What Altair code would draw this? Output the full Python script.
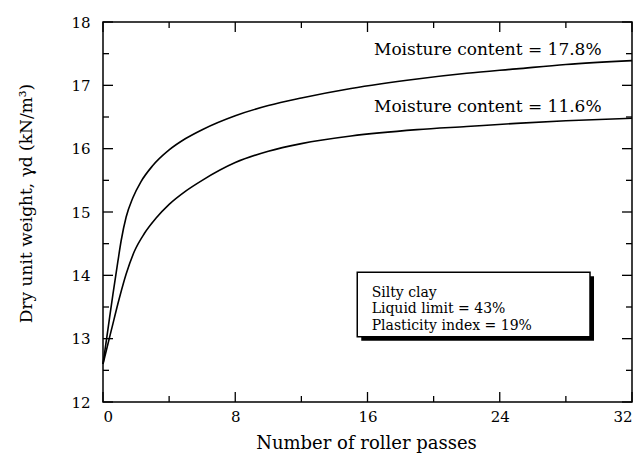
import altair as alt
import pandas as pd

# ---- data ----
passes_178 = [0, 0.3, 0.6, 0.9, 1.1, 1.4, 1.8, 2.3, 3, 4, 5, 6, 8, 10, 12, 15, 19, 22, 25, 28, 32]
weight_178 = [12.6, 13.15, 13.7, 14.22, 14.55, 14.92, 15.22, 15.48, 15.73, 15.98, 16.16, 16.3, 16.52, 16.68,
              16.8, 16.95, 17.1, 17.19, 17.26, 17.33, 17.39]
passes_116 = [0, 0.5, 1.0, 1.4, 1.9, 2.5, 3.2, 4.0, 5.0, 6, 8, 10, 12, 15, 19, 22, 25, 28, 32]
weight_116 = [12.6, 13.13, 13.65, 14.02, 14.38, 14.66, 14.9, 15.12, 15.33, 15.5, 15.78, 15.96, 16.08, 16.2,
              16.3, 16.35, 16.4, 16.44, 16.48]

x_major = [0, 8, 16, 24, 32]
x_minor = [4, 12, 20, 28]
y_major = [12, 13, 14, 15, 16, 17, 18]
y_minor = [12.5, 13.5, 14.5, 15.5, 16.5, 17.5]

curve_labels = ["Moisture content =  17.8%", "Moisture content =  11.6%"]
box_lines = ["Silty clay", "Liquid limit =  43%", "Plasticity index =  19%"]

# ---- tables ----
curves = pd.DataFrame({
    "passes": passes_178 + passes_116,
    "weight": weight_178 + weight_116,
    "series": ["17.8"] * len(passes_178) + ["11.6"] * len(passes_116),
})
labels_df = pd.DataFrame({"x": [30.16, 30.16], "y": [17.48, 16.584], "text": curve_labels})
box_df = pd.DataFrame({"x": [15.38], "x2": [29.46], "y": [14.048], "y2": [13.031]})
boxtext_df = pd.DataFrame({"x": [16.25], "y": [13.663]})
xmaj_df = pd.DataFrame({"v": x_major})
xmin_df = pd.DataFrame({"v": x_minor})
ymaj_df = pd.DataFrame({"v": y_major})
ymin_df = pd.DataFrame({"v": y_minor})

FONT = "DejaVu Serif"
W, H = 529, 380
MAJ, MIN = 10, 6

xs = alt.Scale(domain=[0, 32], nice=False, zero=False)
ys = alt.Scale(domain=[12, 18], nice=False, zero=False)

lines = alt.Chart(curves).mark_line(color="black", strokeWidth=1.6, interpolate="monotone").encode(
    x=alt.X("passes:Q", scale=xs, axis=alt.Axis(
        orient="bottom", values=x_major, ticks=False, tickSize=0, domain=False, grid=False,
        labelFont=FONT, labelFontSize=15, labelColor="black", labelPadding=7,
        title="Number of roller passes", titleFont=FONT, titleFontSize=18, titleFontWeight="normal",
        titleColor="black", titleX=263, titleY=46, titleBaseline="alphabetic", titleAlign="center")),
    y=alt.Y("weight:Q", scale=ys, axis=alt.Axis(
        orient="left", values=y_major, ticks=False, tickSize=0, domain=False, grid=False,
        labelFont=FONT, labelFontSize=15, labelColor="black", labelPadding=13,
        title="Dry unit weight, γd (kN/m³)", titleFont=FONT, titleFontSize=17, titleFontWeight="normal",
        titleColor="black", titleAngle=-90, titleX=-72, titleY=181, titleBaseline="alphabetic",
        titleAlign="center")),
    detail="series:N",
)


def xticks(df, y0, y1):
    return alt.Chart(df).mark_rule(color="black", strokeWidth=1.3).encode(
        x=alt.X("v:Q", scale=xs, axis=None), y=alt.value(y0), y2=alt.value(y1))


def yticks(df, x0, x1):
    return alt.Chart(df).mark_rule(color="black", strokeWidth=1.3).encode(
        y=alt.Y("v:Q", scale=ys, axis=None), x=alt.value(x0), x2=alt.value(x1))


ticks = [
    xticks(xmaj_df, H, H - MAJ), xticks(xmin_df, H, H - MIN),
    xticks(xmaj_df, 0, MAJ), xticks(xmin_df, 0, MIN),
    yticks(ymaj_df, 0, MAJ), yticks(ymin_df, 0, MIN),
    yticks(ymaj_df, W, W - MAJ), yticks(ymin_df, W, W - MIN),
]

curve_text = alt.Chart(labels_df).mark_text(
    align="right", baseline="alphabetic", font=FONT, fontSize=17, color="black"
).encode(
    x=alt.X("x:Q", scale=xs, axis=None),
    y=alt.Y("y:Q", scale=ys, axis=None),
    text="text:N",
)

shadow = alt.Chart(box_df).mark_rect(
    color="black", xOffset=4, x2Offset=4, yOffset=4, y2Offset=4
).encode(
    x=alt.X("x:Q", scale=xs, axis=None), x2="x2:Q",
    y=alt.Y("y:Q", scale=ys, axis=None), y2="y2:Q",
)
box = alt.Chart(box_df).mark_rect(fill="white", stroke="black", strokeWidth=1.5).encode(
    x=alt.X("x:Q", scale=xs, axis=None), x2="x2:Q",
    y=alt.Y("y:Q", scale=ys, axis=None), y2="y2:Q",
)
box_text = alt.Chart(boxtext_df).mark_text(
    text=box_lines, align="left", baseline="alphabetic", lineHeight=16.7,
    font=FONT, fontSize=14, color="black"
).encode(
    x=alt.X("x:Q", scale=xs, axis=None),
    y=alt.Y("y:Q", scale=ys, axis=None),
)

chart = alt.layer(
    lines, *ticks, curve_text, shadow, box, box_text
).resolve_axis(
    x="independent", y="independent"
).properties(
    width=W, height=H,
    autosize=alt.AutoSizeParams(type="none"),
    padding={"left": 95, "top": 14, "right": 1, "bottom": 52},
    background="white",
).configure_view(
    stroke="black", strokeWidth=1.5
)

chart.save("out.html", embed_options={"renderer": "svg", "actions": False})
